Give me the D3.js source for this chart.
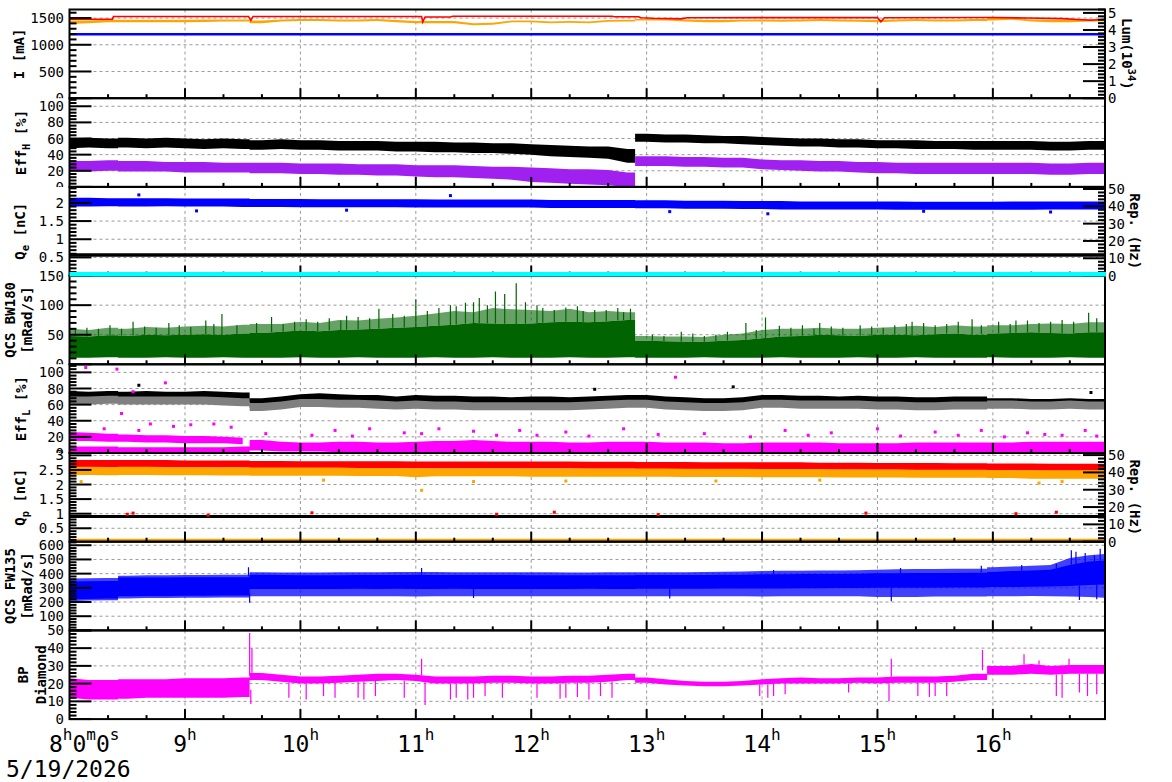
<!DOCTYPE html>
<html>
<head>
<meta charset="utf-8">
<script src="https://cdn.jsdelivr.net/npm/d3@7/dist/d3.min.js"></script>
<style>
  body { margin: 0; background: #fff; }
  text { font-family: "DejaVu Sans Mono", monospace; fill: #000; }
</style>
</head>
<body>
<svg id="chart" width="1172" height="782"></svg>
<script>
// time grid: one reading every 10 minutes, 8:00 .. 17:00
var hours10 = d3.range(55).map(function(i) { return 8 + i / 6; });
var hourTicks = [9, 10, 11, 12, 13, 14, 15, 16];
// moments where the machine state jumps (bands step there instead of sloping)
var jumpHours = [8.42, 9.56, 12.9, 15.95];

// ---- I [mA] / Lum
var lumLo = [4.35,4.4,4.45,4.45,4.45,4.45, 4.45,4.47,4.5,4.5,4.4,4.5, 4.52,4.52,4.5,4.5,4.52,4.45, 4.4,4.4,4.4,4.28,4.3,4.45,
             4.45,4.4,4.42,4.4,4.48,4.5, 4.55,4.55,4.5,4.45,4.45,4.5, 4.5,4.48,4.5,4.52,4.5,4.48, 4.45,4.5,4.52,4.5,4.5,4.52, 4.55,4.6,4.5,4.45,4.45,4.5,4.5];
var lumHi = [4.55,4.55,4.6,4.6,4.6,4.6, 4.6,4.62,4.62,4.62,4.55,4.62, 4.65,4.65,4.62,4.62,4.65,4.58, 4.52,4.52,4.52,4.4,4.42,4.55,
             4.55,4.5,4.52,4.5,4.58,4.6, 4.65,4.65,4.62,4.58,4.58,4.6, 4.62,4.6,4.62,4.64,4.62,4.6, 4.58,4.62,4.64,4.62,4.62,4.64, 4.7,4.72,4.62,4.6,4.6,4.65,4.65];
var herCurrent = [[8.0,1478],[8.37,1478],[8.38,1530],[9.55,1530],[9.57,1455],[9.59,1530],[11.05,1530],[11.06,1425],[11.08,1520],
                  [11.3,1520],[11.32,1535],[12.7,1535],[12.72,1525],[12.93,1525],[12.95,1505],[13.05,1495],[13.3,1485],[13.35,1505],
                  [14.0,1508],[15.0,1508],[15.03,1430],[15.06,1505],[16.0,1510],[16.3,1500],[16.6,1490],[16.85,1460],[16.98,1480]];
var lerCurrent = [[8.0,1195],[16.98,1195]];

// ---- Eff_H [%]
var effHBlackLo = [48,49,48,49,48,49, 48,47,48,47,46,47, 46,46,45,45,45,44, 44,43,43,42,42,41, 40,38,37,36,35,30, 56,55,55,54,54,53, 52,51,50,50,49,49, 48,48,47,47,47,46, 46,46,46,45,45,46,46];
var effHBlackHi = [60,61,60,61,60,61, 60,59,60,59,58,59, 58,58,57,57,57,56, 56,56,55,55,54,54, 53,52,51,50,50,47, 66,65,65,64,63,63, 62,61,60,60,59,59, 58,58,58,57,57,57, 57,57,57,56,56,57,57];
var effHPurpleLo = [19,19,20,19,19,19, 18,18,18,18,17,17, 16,16,15,15,14,14, 13,12,12,11,10,9, 6,5,4,3,2,0, 26,26,25,25,24,24, 22,21,20,19,19,18, 17,17,16,16,16,16, 16,16,16,15,15,16,16];
var effHPurpleHi = [32,32,33,32,32,31, 31,31,30,30,30,30, 29,29,29,28,28,28, 27,27,27,26,25,25, 24,23,22,22,21,18, 38,38,37,37,36,36, 34,33,33,32,32,31, 31,30,30,30,30,30, 30,30,30,29,29,30,30];

// ---- Q_e [nC] / Rep
var qeLo = [1.9,1.9,1.91,1.9,1.9,1.91, 1.9,1.9,1.9,1.89,1.89,1.89, 1.88,1.88,1.88,1.88,1.88,1.88, 1.87,1.87,1.87,1.87,1.87,1.87, 1.87,1.86,1.86,1.86,1.86,1.86,
            1.85,1.85,1.84,1.84,1.84,1.83, 1.83,1.82,1.82,1.82,1.82,1.82, 1.82,1.81,1.81,1.81,1.81,1.81, 1.81,1.81,1.81,1.82,1.82,1.82,1.82];
var qeHi = [2.14,2.14,2.13,2.13,2.13,2.13, 2.12,2.12,2.12,2.12,2.11,2.11, 2.11,2.1,2.1,2.1,2.1,2.1, 2.1,2.09,2.09,2.09,2.09,2.09, 2.09,2.08,2.08,2.08,2.08,2.08,
            2.07,2.07,2.06,2.06,2.06,2.05, 2.05,2.05,2.04,2.04,2.04,2.04, 2.04,2.04,2.03,2.03,2.03,2.03, 2.03,2.04,2.04,2.04,2.04,2.04,2.04];
var qeOut = [[9.1,1.78],[10.4,1.8],[13.2,1.76],[14.05,1.7],[15.4,1.77],[16.5,1.75],[8.6,2.22],[11.3,2.2]];
var qeBlackLine = [[8.0,0.57],[16.98,0.57]];
var qeCyanLine = [[8.0,0.04],[16.98,0.04]];

// ---- QCS BW180 [mRad/s]
var bwLo = [11,11,12,11,11,12, 11,11,12,11,11,11, 12,11,11,12,11,11, 11,12,11,11,12,11, 11,11,12,11,11,12, 11,11,11,12,11,11, 11,12,11,11,11,12, 11,11,12,11,11,11, 12,11,11,11,12,11,11];
var bwHi = [48,47,49,48,50,49, 50,51,50,52,53,55, 57,56,58,59,60,62, 63,65,67,70,69,68, 69,71,72,71,73,75, 40,39,38,38,40,41, 44,47,48,50,49,48, 50,50,49,51,52,50, 52,53,54,53,52,54,54];
var bwOuter = [60,58,62,60,63,62, 64,65,64,67,68,68, 72,70,75,74,77,79, 82,86,90,88,95,93, 92,90,94,88,90,88, 48,47,47,46,50,52, 58,60,60,62,60,60, 62,63,65,63,66,64, 66,66,68,69,68,71,71];
var bwSpikes = [[8.05,58],[8.15,62],[8.25,60],[8.35,66],[8.45,60],[8.55,72],[8.65,64],[8.75,62],[8.86,70],[8.95,66],
                [9.05,63],[9.18,74],[9.25,68],[9.32,85],[9.45,66],[9.62,70],[9.75,80],[9.85,68],[9.95,72],[10.05,76],
                [10.15,72],[10.25,78],[10.35,74],[10.4,82],[10.5,80],[10.6,78],[10.68,94],[10.8,85],[10.9,82],[11.0,110],
                [11.1,90],[11.2,95],[11.3,100],[11.35,98],[11.43,104],[11.5,105],[11.55,112],[11.62,100],[11.69,123],[11.77,119],
                [11.87,137],[11.95,105],[12.05,100],[12.1,95],[12.2,92],[12.3,96],[12.4,98],[12.45,90],[12.55,92],[12.65,92],
                [12.75,95],[12.8,88],[12.86,94],[13.05,50],[13.15,48],[13.3,55],[13.4,52],[13.5,48],[13.6,50],[13.7,55],
                [13.86,70],[13.95,58],[14.03,79],[14.15,65],[14.25,62],[14.35,66],[14.45,60],[14.5,70],[14.6,64],[14.7,62],
                [14.85,66],[14.95,64],[15.05,62],[15.15,66],[15.25,68],[15.3,72],[15.4,70],[15.5,66],[15.6,68],[15.7,72],
                [15.82,76],[15.9,66],[16.05,72],[16.15,68],[16.2,74],[16.3,74],[16.4,70],[16.5,72],[16.6,75],[16.7,72],
                [16.83,87],[16.9,78]];

// ---- Eff_L [%]
var effLBlackLo = [65,64,65,64,65,64, 64,65,64,63,56,58, 61,62,61,60,60,58, 60,59,59,58,58,57, 58,58,57,58,59,60, 60,58,57,56,56,57, 60,60,59,59,58,59, 58,58,57,57,58,58, 56,56,55,55,56,55,55];
var effLBlackHi = [77,76,77,76,77,76, 76,77,76,75,68,70, 73,74,73,72,72,70, 72,71,71,70,70,69, 70,70,69,70,71,72, 72,70,69,68,68,69, 72,72,71,71,70,71, 70,70,69,69,70,70, 68,68,67,67,68,67,67];
var effLGrayLo = [60,60,61,60,60,60, 60,60,59,58,52,54, 57,57,56,56,55,54, 55,54,54,53,53,53, 53,53,53,54,55,56, 56,54,53,52,52,53, 56,56,55,55,55,55, 54,54,53,53,54,54, 55,55,54,54,55,54,54];
var effLGrayHi = [70,70,71,70,70,70, 70,70,69,68,62,64, 67,67,66,66,65,64, 65,64,64,63,63,63, 63,63,63,64,65,66, 66,64,63,62,62,63, 66,66,65,65,65,65, 64,64,63,63,64,64, 65,65,64,64,65,64,64];
var effLMagLo = [0,0,0,0,0,0, 0,0,0,0,3,2, 2,2,1,1,1,1, 1,1,1,1,1,1, 1,1,1,1,1,1, 1,1,1,1,1,1, 1,1,1,1,1,1, 1,1,1,1,1,1, 1,1,1,1,1,1,1];
var effLMagHi = [8,8,8,7,7,7, 7,7,7,8,16,14, 13,13,14,14,13,13, 14,15,15,16,15,14, 14,14,13,13,14,14, 14,13,13,13,12,12, 13,13,13,13,12,12, 12,12,13,13,13,13, 13,13,14,14,14,14,14];
var effLMagUpLo = [15,15,14,14,13,13, 12,12,12,11];
var effLMagUpHi = [26,25,24,23,22,22, 21,21,20,19];
var effLMagOut = [[8.14,106],[8.41,104],[8.55,76],[8.83,87],[8.45,49],[8.7,36],[8.9,33],[9.05,35],[9.25,36],[9.4,32],
                  [10.3,28],[10.6,30],[10.9,25],[11.2,30],[11.5,27],[11.9,28],[12.3,26],[12.8,30],[13.25,94],[13.5,24],
                  [14.2,28],[14.6,25],[15.0,30],[15.5,26],[15.9,28],[16.3,25],[16.6,22],[16.8,28],[10.1,22],[12.05,22],
                  [8.3,30],[8.6,28],[9.7,24],[10.45,21],[11.05,24],[11.7,22],[12.5,21],[13.1,23],[13.9,20],[14.4,22],
                  [15.2,21],[15.7,22],[16.1,20],[16.45,23],[16.9,21]];
var effLBlackOut = [[8.6,84],[12.55,79],[16.85,75],[13.75,82]];

// ---- Q_p [nC] / Rep
var qpRedLo = [2.6,2.6,2.6,2.6,2.6,2.6, 2.58,2.58,2.58,2.58,2.57,2.57, 2.56,2.56,2.56,2.56,2.56,2.56, 2.55,2.55,2.55,2.55,2.55,2.55, 2.55,2.55,2.55,2.54,2.54,2.54,
               2.53,2.53,2.53,2.52,2.52,2.52, 2.52,2.52,2.52,2.51,2.51,2.51, 2.5,2.5,2.5,2.5,2.49,2.49, 2.48,2.48,2.48,2.47,2.47,2.47,2.47];
var qpRedHi = [2.84,2.84,2.84,2.84,2.84,2.84, 2.82,2.82,2.82,2.82,2.81,2.81, 2.8,2.8,2.8,2.8,2.8,2.8, 2.79,2.79,2.79,2.79,2.79,2.79, 2.79,2.79,2.79,2.78,2.78,2.78,
               2.77,2.77,2.77,2.76,2.76,2.76, 2.76,2.76,2.76,2.75,2.75,2.75, 2.74,2.74,2.74,2.74,2.73,2.73, 2.72,2.72,2.72,2.71,2.71,2.71,2.71];
var qpOrangeLo = [2.33,2.33,2.32,2.33,2.33,2.32, 2.32,2.32,2.31,2.31,2.3,2.3, 2.3,2.3,2.3,2.29,2.29,2.29, 2.25,2.28,2.28,2.28,2.28,2.28, 2.27,2.27,2.27,2.27,2.27,2.27,
                  2.27,2.27,2.26,2.26,2.26,2.26, 2.25,2.25,2.25,2.25,2.24,2.24, 2.24,2.24,2.23,2.23,2.23,2.23, 2.22,2.22,2.2,2.2,2.2,2.2,2.2];
var qpOrangeHi = [2.61,2.61,2.6,2.61,2.61,2.6, 2.6,2.6,2.59,2.59,2.58,2.58, 2.58,2.58,2.58,2.57,2.57,2.57, 2.56,2.56,2.56,2.56,2.56,2.56, 2.55,2.55,2.55,2.55,2.55,2.55,
                  2.55,2.55,2.54,2.54,2.54,2.54, 2.53,2.53,2.53,2.53,2.52,2.52, 2.52,2.52,2.51,2.51,2.51,2.51, 2.5,2.5,2.49,2.49,2.49,2.49,2.49];
var qpOrangeOut = [[8.1,2.1],[11.05,1.8],[11.5,2.1],[12.3,2.12],[14.5,2.15],[16.4,2.05],[16.6,2.1],[10.2,2.15],[13.6,2.12]];
var qpRedOut = [[8.5,0.98],[8.55,1.02],[9.2,0.95],[10.1,1.03],[11.7,0.98],[12.2,1.05],[13.1,0.97],[14.9,1.02],[16.2,1.0],[16.55,1.05]];
var qpBlackLine = [[8.0,0.9],[16.98,0.9]];
var qpOrangeLine = [[8.0,0.09],[16.98,0.09]];

// ---- QCS FW135 [mRad/s]
var fwLo = [220,222,225,240,242,242, 244,245,246,246,292,292, 292,292,292,293,292,293, 292,292,293,292,292,292, 292,292,292,293,292,292, 293,293,294,294,295,295, 296,296,297,297,298,298, 300,300,301,301,302,302, 305,306,308,310,312,320,325];
var fwHi = [345,346,348,372,372,373, 374,374,375,375,392,390, 388,388,389,390,390,391, 392,391,391,390,390,390, 389,389,388,388,388,388, 390,390,390,391,392,393, 395,396,397,398,398,399, 402,403,404,405,405,406, 412,418,422,428,460,485,495];
var fwOutLo = [205,210,212,225,228,228, 230,230,232,232,240,240, 240,240,240,240,240,240, 238,240,240,240,240,240, 240,240,240,240,240,240, 240,240,240,240,240,240, 238,240,240,240,240,240, 235,235,236,238,238,238, 240,240,242,240,238,235,230];
var fwOutHi = [365,368,370,385,388,388, 390,390,392,392,410,408, 408,408,410,410,410,412, 412,412,410,410,410,410, 410,410,408,408,410,410, 410,410,410,412,414,415, 418,420,420,422,422,424, 428,430,432,432,434,435, 445,450,455,460,510,530,540];
var fwPeaks = [[9.55,445],[11.05,440],[14.1,425],[15.2,440],[15.9,455],[16.25,460],[16.55,470],[16.68,565],[16.72,555],[16.8,545],[16.88,530],[16.93,575]];
var fwDips = [[9.56,195],[15.12,205],[16.75,215],[16.9,220],[13.2,225],[11.5,228]];

// ---- BP Diamond
var bpLo = [12,11,11,11.5,12,12, 12,12,12,12.5,22,21, 20,20,20.5,21,21.5,22, 21.5,20,20,20,20.5,20.5, 20,20,20.5,20.5,21,22, 20.5,19.5,19,18.5,18.5,19, 19.5,20,20,20,20,20.5, 20,20.5,20.5,20.5,21,22, 25,25,25.5,25,25.5,25.5,25.5];
var bpHi = [23,22,22,22.5,22.5,22.5, 23,23,23,23.5,26,25, 24,24,24.5,25,25.5,25.5, 25,24,24,24,24.5,24.5, 24,24,24.5,24.5,25,25.5, 23.5,22.5,21.5,21,21,21.5, 22.5,23,23.5,23,23,23.5, 23.5,24,24,24,24.5,25.5, 30,30,31,30,30.5,30.5,30.5];
var bpPeaks = [[9.56,48.5],[9.58,40],[11.05,34],[15.12,34],[15.91,39],[16.27,36.5],[16.4,33],[16.66,34]];
var bpDips = [[9.57,8.5],[9.9,12],[10.05,11],[10.2,13],[10.3,12],[10.5,12],[10.55,11],[10.65,13],[10.9,12],[11.08,8],
              [11.3,11],[11.35,12],[11.45,11],[11.5,12],[11.6,13],[11.75,12],[12.05,12],[12.25,11.5],[12.3,12],[12.4,12.5],
              [12.5,11],[12.6,13],[12.7,12],[13.98,13],[14.05,12],[14.1,13],[14.2,14],[14.75,15],[15.1,10],[15.35,13],
              [15.45,12.5],[15.5,13],[15.6,13],[16.55,13],[16.6,12],[16.75,15],[16.82,13],[16.9,14]];

// ---------------------------------------------------------------------------
var svg = d3.select("#chart");
var day = new Date(2026, 4, 19);
function at(h) { return new Date(day.getTime() + h * 3600e3); }
var tEnd = 8 + 538.3 / 60;
var x = d3.scaleTime().domain([at(8), at(tEnd)]).range([69.6, 1105]);

var L = 69.5, R = 1105, pTop = 9.5, pH = 88.7;
var C = { red: "#ff0000", orange: "#ffa500", blue: "#0000ff", purple: "#a020f0", green: "#006400",
          gray: "#808080", magenta: "#ff00ff", cyan: "#00ffff", black: "#000000" };

function valAt(arr, t) {
  var f = (t - 8) * 6, i = Math.max(0, Math.min(53, Math.floor(f)));
  return arr[i] + (arr[i + 1] - arr[i]) * (f - i);
}
// band samples, with a vertical step inserted at each jump moment
function bandPoints(lo, hi) {
  var pts = [];
  hours10.forEach(function(t, i) {
    if (lo[i] == null) return;
    pts.push({ t: t, lo: lo[i], hi: hi[i] });
    if (lo[i + 1] == null) return;
    jumpHours.forEach(function(b) {
      if (b > t && b < hours10[i + 1]) {
        pts.push({ t: b, lo: lo[i], hi: hi[i] });
        pts.push({ t: b, lo: lo[i + 1], hi: hi[i + 1] });
      }
    });
  });
  return pts;
}
function band(g, y, lo, hi, color, op) {
  g.append("path").datum(bandPoints(lo, hi))
    .attr("d", d3.area().x(function(d) { return x(at(d.t)); })
      .y0(function(d) { return y(d.lo); }).y1(function(d) { return y(d.hi); }))
    .attr("fill", color).attr("opacity", op || 1);
}
function line(g, y, pts, color, w) {
  g.append("path").datum(pts)
    .attr("d", d3.line().x(function(d) { return x(at(d[0])); }).y(function(d) { return y(d[1]); }))
    .attr("fill", "none").attr("stroke", color).attr("stroke-width", w);
}
function dots(g, y, pts, color) {
  g.selectAll(null).data(pts).enter().append("rect")
    .attr("x", function(d) { return x(at(d[0])) - 1.5; })
    .attr("y", function(d) { return y(d[1]) - 1.5; })
    .attr("width", 3).attr("height", 3).attr("fill", color);
}
function spikes(g, y, pts, baseArr, color) {
  g.selectAll(null).data(pts).enter().append("line")
    .attr("x1", function(d) { return x(at(d[0])); })
    .attr("x2", function(d) { return x(at(d[0])); })
    .attr("y1", function(d) { return y(d[1]); })
    .attr("y2", function(d) { return y(valAt(baseArr, d[0])); })
    .attr("stroke", color).attr("stroke-width", 1.2);
}

var panels = [
  { dom: [0, 1660], majors: [0, 500, 1000, 1500], minor: 100,
    label: [[["I [mA]"]]], lx: [19],
    right: { dom: [0, 5.2], majors: [0, 1, 2, 3, 4, 5], minor: 0.2, label: [["Lum(10"], ["34", "sup"], [")"]], lx: 1127 },
    draw: function(g, y, y2) {
      band(g, y2, lumLo, lumHi, C.orange);
      line(g, y, herCurrent, C.red, 1.6);
      line(g, y, lerCurrent, C.blue, 2.5);
    } },
  { dom: [0, 110], majors: [0, 20, 40, 60, 80, 100], minor: 4,
    label: [[["Eff"], ["H", "sub"], [" [%]"]]], lx: [21],
    draw: function(g, y) {
      band(g, y, effHBlackLo, effHBlackHi, C.black);
      band(g, y, effHPurpleLo, effHPurpleHi, C.purple);
    } },
  { dom: [0, 2.44], majors: [0, 0.5, 1, 1.5, 2], minor: 0.1, shown: [0.5, 1, 1.5, 2],
    label: [[["Q"], ["e", "sub"], [" [nC]"]]], lx: [20],
    right: { dom: [0, 51.2], majors: [0, 10, 20, 30, 40, 50], minor: 2, label: [["Rep. (Hz)"]], lx: 1135 },
    draw: function(g, y) {
      band(g, y, qeLo, qeHi, C.blue);
      dots(g, y, qeOut, C.blue);
      line(g, y, qeBlackLine, C.black, 3.5);
    } },
  { dom: [0, 150], majors: [0, 50, 100, 150], minor: 10,
    label: [[["QCS BW180"]], [["[mRad/s]"]]], lx: [10, 27],
    draw: function(g, y) {
      band(g, y, bwHi, bwOuter, C.green, 0.6);
      band(g, y, bwLo, bwHi, C.green);
      spikes(g, y, bwSpikes, bwHi, C.green);
    } },
  { dom: [0, 110], majors: [0, 20, 40, 60, 80, 100], minor: 4,
    label: [[["Eff"], ["L", "sub"], [" [%]"]]], lx: [21],
    draw: function(g, y) {
      band(g, y, effLBlackLo, effLBlackHi, C.black);
      band(g, y, effLGrayLo, effLGrayHi, C.gray);
      dots(g, y, effLBlackOut, C.black);
      band(g, y, effLMagLo, effLMagHi, C.magenta);
      band(g, y, effLMagUpLo, effLMagUpHi, C.magenta);
      dots(g, y, effLMagOut, C.magenta);
    } },
  { dom: [0.04, 3.08], majors: [0, 0.5, 1, 1.5, 2, 2.5, 3], minor: 0.1, shown: [0.5, 1, 1.5, 2, 2.5, 3],
    label: [[["Q"], ["p", "sub"], [" [nC]"]]], lx: [20],
    right: { dom: [0, 51.2], majors: [0, 10, 20, 30, 40, 50], minor: 2, label: [["Rep. (Hz)"]], lx: 1135 },
    draw: function(g, y) {
      band(g, y, qpRedLo, qpRedHi, C.red);
      band(g, y, qpOrangeLo, qpOrangeHi, C.orange);
      dots(g, y, qpOrangeOut, C.orange);
      line(g, y, qpBlackLine, C.black, 3);
      dots(g, y, qpRedOut, C.red);
      line(g, y, qpOrangeLine, C.orange, 3);
    } },
  { dom: [0, 625], majors: [0, 100, 200, 300, 400, 500, 600], minor: 20, shown: [100, 200, 300, 400, 500, 600],
    label: [[["QCS FW135"]], [["[mRad/s]"]]], lx: [10, 27],
    draw: function(g, y) {
      band(g, y, fwOutLo, fwOutHi, C.blue, 0.75);
      band(g, y, fwLo, fwHi, C.blue);
      spikes(g, y, fwPeaks, fwHi, C.blue);
      spikes(g, y, fwDips, fwLo, C.blue);
    } },
  { dom: [0, 50], majors: [0, 10, 20, 30, 40, 50], minor: 2,
    label: [[["BP"]], [["Diamond"]]], lx: [23, 41],
    draw: function(g, y) {
      band(g, y, bpLo, bpHi, C.magenta);
      spikes(g, y, bpPeaks, bpHi, C.magenta);
      spikes(g, y, bpDips, bpLo, C.magenta);
    } }
];

function ticksIn(dom, step) {
  var out = [], v = Math.ceil(dom[0] / step - 1e-9) * step;
  for (; v <= dom[1] + 1e-9; v += step) out.push(+v.toFixed(6));
  return out;
}
function richText(g, cx, cy, angle, segs, size, weight) {
  var t = g.append("text")
    .attr("transform", "translate(" + cx + "," + cy + ") rotate(" + angle + ")")
    .attr("text-anchor", "middle").attr("dy", "0.35em")
    .style("font-size", size + "px").style("font-weight", weight || "normal");
  var shift = 0;
  segs.forEach(function(s) {
    var sp = t.append("tspan").text(s[0]);
    var want = s[1] === "sub" ? 4 : s[1] === "sup" ? -6 : 0;
    if (want !== shift) { sp.attr("dy", want - shift); shift = want; }
    if (s[1]) sp.style("font-size", (size * 0.75) + "px");
  });
}

var grid = svg.append("g"), dataLayer = svg.append("g"), axes = svg.append("g");
var fmt = d3.format("~g");

panels.forEach(function(p, k) {
  var top = pTop + k * pH, bot = top + pH;
  var y = d3.scaleLinear().domain(p.dom).range([bot, top]);
  var y2 = p.right ? d3.scaleLinear().domain(p.right.dom).range([bot, top]) : null;
  p.y = y;

  svg.append("clipPath").attr("id", "clip" + k).append("rect")
    .attr("x", L).attr("y", top).attr("width", R - L).attr("height", pH);
  // the pad below hides what the left labels spill past the shared edge
  svg.append("clipPath").attr("id", "lab" + k).append("rect")
    .attr("x", 0).attr("y", 0).attr("width", L).attr("height", k < panels.length - 1 ? bot : 782);

  // dashed grid
  grid.selectAll(null).data(hourTicks).enter().append("line")
    .attr("x1", function(h) { return x(at(h)); }).attr("x2", function(h) { return x(at(h)); })
    .attr("y1", top).attr("y2", bot)
    .attr("stroke", "#999").attr("stroke-dasharray", "3,3");
  grid.selectAll(null).data(p.majors.filter(function(v) { return v >= p.dom[0] && v <= p.dom[1]; })).enter().append("line")
    .attr("x1", L).attr("x2", R).attr("y1", y).attr("y2", y)
    .attr("stroke", "#999").attr("stroke-dasharray", "3,3");

  var g = dataLayer.append("g").attr("clip-path", "url(#clip" + k + ")");
  p.draw(g, y, y2);

  // frame
  axes.append("rect").attr("x", L).attr("y", top).attr("width", R - L).attr("height", pH)
    .attr("fill", "none").attr("stroke", "#000").attr("stroke-width", 2);

  // time ticks pointing up from the bottom edge
  var minorT = d3.range(8 + 1 / 3, tEnd, 1 / 3).filter(function(h) { return Math.abs(h - Math.round(h)) > 0.01; });
  axes.selectAll(null).data(minorT).enter().append("line")
    .attr("x1", function(h) { return x(at(h)); }).attr("x2", function(h) { return x(at(h)); })
    .attr("y1", bot).attr("y2", bot - 4).attr("stroke", "#000").attr("stroke-width", 2);
  axes.selectAll(null).data(hourTicks).enter().append("line")
    .attr("x1", function(h) { return x(at(h)); }).attr("x2", function(h) { return x(at(h)); })
    .attr("y1", bot).attr("y2", bot - 10).attr("stroke", "#000").attr("stroke-width", 2);

  // left axis
  var maj = p.majors.filter(function(v) { return v >= p.dom[0] - 1e-9 && v <= p.dom[1] + 1e-9; });
  var isMaj = function(v) { return p.majors.some(function(m) { return Math.abs(m - v) < 1e-6; }); };
  axes.selectAll(null).data(ticksIn(p.dom, p.minor).filter(function(v) { return !isMaj(v); })).enter().append("line")
    .attr("x1", L).attr("x2", L + 7).attr("y1", y).attr("y2", y).attr("stroke", "#000").attr("stroke-width", 2);
  axes.selectAll(null).data(maj).enter().append("line")
    .attr("x1", L).attr("x2", L + 22).attr("y1", y).attr("y2", y).attr("stroke", "#000").attr("stroke-width", 2);
  axes.append("g").attr("clip-path", "url(#lab" + k + ")")
    .selectAll(null).data(p.shown || p.majors).enter().append("text")
    .attr("x", 64).attr("y", y).attr("dy", "0.36em").attr("text-anchor", "end")
    .style("font-size", "14px").text(fmt);

  var mid = (top + bot) / 2;
  p.label.forEach(function(segs, j) { richText(axes, p.lx[j], mid, -90, segs, 14, "bold"); });

  // right axis
  if (p.right) {
    var r = p.right;
    var isMajR = function(v) { return r.majors.some(function(m) { return Math.abs(m - v) < 1e-6; }); };
    axes.selectAll(null).data(ticksIn(r.dom, r.minor).filter(function(v) { return !isMajR(v); })).enter().append("line")
      .attr("x1", R).attr("x2", R - 7).attr("y1", y2).attr("y2", y2).attr("stroke", "#000").attr("stroke-width", 2);
    axes.selectAll(null).data(r.majors).enter().append("line")
      .attr("x1", R).attr("x2", R - 22).attr("y1", y2).attr("y2", y2).attr("stroke", "#000").attr("stroke-width", 2);
    axes.selectAll(null).data(r.majors).enter().append("text")
      .attr("x", 1108).attr("y", y2).attr("dy", "0.36em").attr("text-anchor", "start")
      .style("font-size", "14px").text(fmt);
    richText(axes, r.lx, mid, 90, r.label, 14, "bold");
  }
});

// rep-rate trace sitting on the Q_e / BW180 boundary
line(svg.append("g"), panels[2].y, qeCyanLine, C.cyan, 4.5);

// time labels
var xl = svg.append("g");
function hourLabel(parts, px, anchor) {
  var t = xl.append("text").attr("x", px).attr("y", 752).attr("text-anchor", anchor).style("font-size", "23px");
  parts.forEach(function(s, i) {
    var sp = t.append("tspan").text(s);
    if (i % 2 === 1) sp.attr("dy", -12).style("font-size", "16px");
    else if (i > 0) sp.attr("dy", 12);
  });
}
hourLabel(["8", "h", "0", "m", "0", "s"], 49, "start");
hourTicks.forEach(function(h) { hourLabel([String(h), "h"], x(at(h)), "middle"); });
xl.append("text").attr("x", 6).attr("y", 777).style("font-size", "23px").text("5/19/2026");
</script>
</body>
</html>
